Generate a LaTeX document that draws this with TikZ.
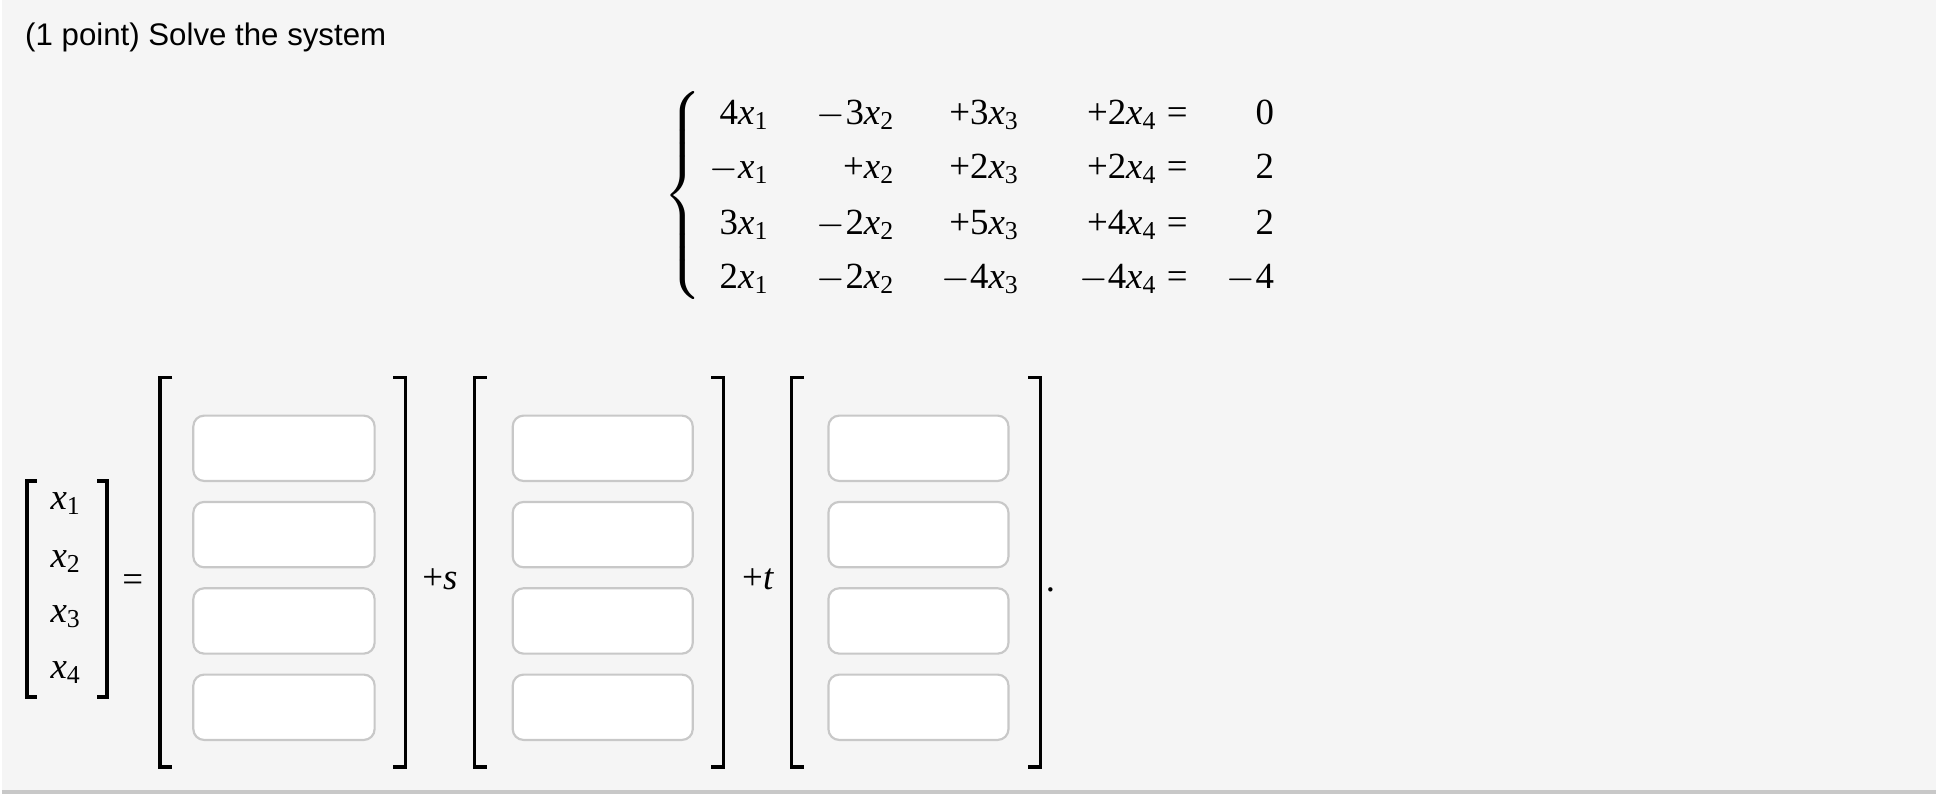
\documentclass[tikz,border=0pt]{standalone}
\usepackage{fontspec}
\setmainfont{Liberation Serif}
\newfontfamily\hv{Liberation Sans}
\definecolor{bg}{HTML}{F5F5F5}
\definecolor{bx}{HTML}{C8C8C8}
\begin{document}
\begin{tikzpicture}[x=0.01cm,y=-0.01cm,
  ansbox/.style={draw=bx,fill=white,rounded corners=2.5pt,line width=0.5pt},
  brk/.style={line width=0.8pt},
  eq/.style={font=\fontsize{8.5}{10}\selectfont,inner sep=0pt},
  var/.style={font=\fontsize{8.5}{10}\selectfont\itshape,inner sep=0pt}]
\fill[bg] (0,0) rectangle (1568,644);
\draw[bx,line width=1pt] (0,642) -- (1568,642);
\node[anchor=west,font=\hv\fontsize{7.2}{8}\selectfont,inner sep=0pt] (title) at (18,30) {(1 point) Solve the system};
% system
\node[inner sep=0pt,font=\fontsize{8.5}{10}\selectfont] (brace) at (554,159) {$\left\{\rule[-0.78cm]{0pt}{1.56cm}\right.$};
\foreach \r/\y/\a/\b/\c/\d/\e in {1/92/4/$-$3/+3/+2/0, 2/136/$-$/+/+2/+2/2, 3/181/3/$-$2/+5/+4/2, 4/225/2/$-$2/$-$4/$-$4/$-$4}{
  \node[eq,anchor=base east] (a\r) at (623,\y+9) {\a\textit{x}\textsubscript{1}};
  \node[eq,anchor=base east] (b\r) at (725,\y+9) {\b\textit{x}\textsubscript{2}};
  \node[eq,anchor=base east] (c\r) at (826,\y+9) {\c\textit{x}\textsubscript{3}};
  \node[eq,anchor=base east] (d\r) at (962,\y+9) {\d\textit{x}\textsubscript{4} =};
  \node[eq,anchor=base east] (e\r) at (1032,\y+9) {\e};
}
% left vector
\draw[brk] (28,390) -- (20,390) -- (20,565) -- (28,565);
\draw[brk] (77,390) -- (85,390) -- (85,565) -- (77,565);
\foreach \i/\y in {1/408,2/455,3/500,4/545}
  \node[var] (x\i) at (52,\y) {x\textsubscript{\upshape\i}};
\node[eq] (eqs) at (106,473) {=};
% brackets and boxes
\foreach \k/\l/\r/\bl/\br in {1/128/327/155/302, 2/383/585/414/560, 3/640/842/670/816}{
  \draw[brk] (\l+10,306) -- (\l,306) -- (\l,622) -- (\l+10,622);
  \draw[brk] (\r-10,306) -- (\r,306) -- (\r,622) -- (\r-10,622);
  \foreach \j/\t in {1/337,2/407,3/477,4/547}
    \draw[ansbox] (\bl,\t) rectangle (\br,\t+53) node[pos=0.5,inner sep=0pt] (box\k\j) {};
}
\node[eq] (ps) at (355,470) {+\textit{s}};
\node[eq] (pt) at (613,470) {+\textit{t}};
\node[eq] (dot) at (850,478) {.};
\end{tikzpicture}
\end{document}
